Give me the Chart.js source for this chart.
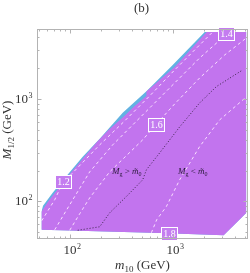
<!DOCTYPE html>
<html>
<head>
<meta charset="utf-8">
<script src="https://cdn.jsdelivr.net/npm/chart.js@4.4.0/dist/chart.umd.min.js"></script>
<style>
  body { margin: 0; background: #fff; }
  canvas { display: block; }
</style>
</head>
<body>
<canvas id="myChart" width="250" height="273"></canvas>
<script>
// values: m10 (x) and M1/2 (y), both in GeV

// lower edge of the allowed region
var bottomX = [52.8, 99.3, 743, 3106, 5160];
var bottomY = [53.0, 52.2, 49.2, 46.9, 77.6];

// upper-left edge of the purple region
var purpleX = [52.8, 61.1, 98.2, 181.6, 232.3, 324.9, 424.8, 551.7, 551.7, 1039, 2124, 5160];
var purpleY = [79.4, 99.3, 182.0, 377.0, 488.0, 660.4, 855.0, 1069.5, 1183, 2049, 4491, 4491];

// outer edge of the blue strip
var blueX = [52.8, 54.7, 67.9, 92.9, 132.8, 194.2, 324.9, 555.5, 993.4, 2032, 5160];
var blueY = [79.4, 90.8, 121.5, 177.9, 272.4, 407.9, 730.8, 1196, 2143, 4491, 4491];

// dashed contours
var contourLevels = ["1.2", "1.4", "1.6", "1.8"];
var c12X = [53.1, 71.0, 85.0, 103.9, 194.2, 339.7, 593.9, 1039, 1816, 2376];
var c12Y = [64.9, 103.9, 152.1, 186.1, 356.5, 610.6, 1069.5, 1916, 3357, 4392];
var c14X = [71.0, 99.3, 155.4, 259.8, 475.1, 929, 1816, 3249];
var c14Y = [53.0, 92.9, 194.7, 356.5, 653.1, 1280, 2507, 4201];
var c16X = [99.3, 124.2, 155.4, 242.9, 507.9, 679.2, 1039, 1816, 3176, 5160];
var c16Y = [52.4, 75.9, 108.6, 194.7, 398.9, 558.2, 894.2, 1601, 2681, 3925];
var c18X = [616.9, 694.6, 862.7, 1161, 1816, 2840, 5160];
var c18Y = [49.6, 66.4, 89.4, 162.7, 343.2, 624.4, 1046];

// where the contour labels sit
var labelX = [85.0, 3285, 687, 908];
var labelY = [155.5, 4246, 558.2, 48.5];

// dotted line M_g = m0
var dotX = [118.8, 194.2, 242.9, 352.8, 507.9, 551.7, 743, 1161, 1816, 2639, 4751];
var dotY = [52.4, 56.7, 77.6, 111.9, 162.7, 203.6, 298.0, 533.7, 914.4, 1318, 1916];

// text positions
var noteX = [355.3, 1554];
var noteY = [199, 199];
var noteSign = [">", "<"];

// axis ticks
var majorTicks = [100, 1000];
var xMinor = [50, 60, 70, 80, 90, 200, 300, 400, 500, 600, 700, 800, 900, 2000, 3000, 4000, 5000];
var yMinor = [50, 60, 70, 80, 90, 200, 300, 400, 500, 600, 700, 800, 900, 2000, 3000, 4000];

const purple = "#c274ee";
const blue = "#62b2e2";
const serif = '"Liberation Serif", "DejaVu Serif", serif';

function pts(xs, ys) {
  return xs.map((v, i) => ({ x: v, y: ys[i] }));
}

function contour(xs, ys) {
  return {
    data: pts(xs, ys),
    showLine: true,
    pointRadius: 0,
    borderColor: "rgba(255,235,255,0.9)",
    borderWidth: 1,
    borderDash: [3, 3],
    fill: false
  };
}

// writes "10" with a raised exponent
function drawPow(ctx, px, py, exp, mode) {
  ctx.font = "13px " + serif;
  const w1 = ctx.measureText("10").width;
  ctx.font = "8px " + serif;
  const w2 = ctx.measureText(exp).width;
  let x0 = mode === "center" ? px - w1 / 2 : px - w1 - w2;
  ctx.textAlign = "left";
  ctx.textBaseline = "alphabetic";
  ctx.font = "13px " + serif;
  ctx.fillText("10", x0, py);
  ctx.font = "8px " + serif;
  ctx.fillText(exp, x0 + w1 + 0.5, py - 5);
}

// italic symbol with a small subscript, then normal text
function drawSym(ctx, x0, py, sym, sub, rest, size) {
  ctx.textAlign = "left";
  ctx.textBaseline = "alphabetic";
  ctx.font = "italic " + size + "px " + serif;
  ctx.fillText(sym, x0, py);
  let x = x0 + ctx.measureText(sym).width;
  ctx.font = Math.round(size * 0.7) + "px " + serif;
  ctx.fillText(sub, x, py + size * 0.25);
  x += ctx.measureText(sub).width;
  ctx.font = size + "px " + serif;
  ctx.fillText(rest, x, py);
  return x + ctx.measureText(rest).width;
}

function symWidth(ctx, sym, sub, rest, size) {
  ctx.font = "italic " + size + "px " + serif;
  let w = ctx.measureText(sym).width;
  ctx.font = Math.round(size * 0.7) + "px " + serif;
  w += ctx.measureText(sub).width;
  ctx.font = size + "px " + serif;
  return w + ctx.measureText(rest).width;
}

const decorations = {
  id: "decorations",
  afterDatasetsDraw(chart) {
    const { ctx, scales: { x, y } } = chart;
    ctx.save();
    // region notes
    ctx.fillStyle = "#2a1a3a";
    noteX.forEach((v, i) => {
      const px = x.getPixelForValue(v), py = y.getPixelForValue(noteY[i]) + 3;
      let w = symWidth(ctx, "M", "g", " " + noteSign[i] + " ", 9) + symWidth(ctx, "m\u0303", "0", "", 9);
      let x1 = drawSym(ctx, px - w / 2, py, "M", "g", " " + noteSign[i] + " ", 9);
      drawSym(ctx, x1, py, "m\u0303", "0", "", 9);
    });
    // contour labels
    contourLevels.forEach((lvl, i) => {
      const px = Math.round(x.getPixelForValue(labelX[i])), py = Math.round(y.getPixelForValue(labelY[i]));
      ctx.fillStyle = "#c47cf0";
      ctx.fillRect(px - 8, py - 7, 17, 14);
      ctx.strokeStyle = "#ffffff";
      ctx.lineWidth = 1;
      ctx.strokeRect(px - 7.5, py - 6.5, 16, 13);
      ctx.fillStyle = "#ffffff";
      ctx.font = "10px " + serif;
      ctx.textAlign = "center";
      ctx.textBaseline = "middle";
      ctx.fillText(lvl, px + 0.5, py + 0.5);
    });
    ctx.restore();
  },
  afterDraw(chart) {
    const { ctx, chartArea: a, scales: { x, y } } = chart;
    ctx.save();
    ctx.strokeStyle = "#b3b3b3";
    ctx.lineWidth = 1;
    ctx.strokeRect(a.left + 0.5, a.top + 0.5, a.right - a.left - 1, a.bottom - a.top - 1);
    ctx.beginPath();
    const tick = (v, len, axis) => {
      if (axis === "x") {
        const px = Math.round(x.getPixelForValue(v)) + 0.5;
        ctx.moveTo(px, a.bottom); ctx.lineTo(px, a.bottom - len);
        ctx.moveTo(px, a.top); ctx.lineTo(px, a.top + len);
      } else {
        const py = Math.round(y.getPixelForValue(v)) + 0.5;
        ctx.moveTo(a.left, py); ctx.lineTo(a.left + len, py);
        ctx.moveTo(a.right, py); ctx.lineTo(a.right - len, py);
      }
    };
    majorTicks.forEach(v => { tick(v, 4.5, "x"); tick(v, 4.5, "y"); });
    xMinor.forEach(v => tick(v, 2.5, "x"));
    yMinor.forEach(v => tick(v, 2.5, "y"));
    ctx.stroke();

    // tick labels
    ctx.fillStyle = "#333333";
    majorTicks.forEach(v => {
      const sup = String(Math.round(Math.log10(v)));
      drawPow(ctx, x.getPixelForValue(v), a.bottom + 15, sup, "center");
      drawPow(ctx, a.left - 5, y.getPixelForValue(v) + 4, sup, "right");
    });

    // axis titles
    const cx = (a.left + a.right) / 2;
    let w = symWidth(ctx, "m", "10", " (GeV)", 13);
    drawSym(ctx, cx - w / 2, 269, "m", "10", " (GeV)", 13);

    ctx.save();
    ctx.translate(11, (a.top + a.bottom) / 2 - 4);
    ctx.rotate(-Math.PI / 2);
    w = symWidth(ctx, "M", "1/2", " (GeV)", 13);
    drawSym(ctx, -w / 2, 0, "M", "1/2", " (GeV)", 13);
    ctx.restore();

    // panel title
    ctx.font = "13px " + serif;
    ctx.textAlign = "center";
    ctx.textBaseline = "alphabetic";
    ctx.fillText("(b)", cx - 1, 12);
    ctx.restore();
  }
};

new Chart("myChart", {
  type: "scatter",
  data: {
    datasets: [
      {
        data: pts(dotX, dotY),
        showLine: true,
        pointRadius: 0,
        borderColor: "#3a2448",
        borderWidth: 1,
        borderDash: [1, 2],
        fill: false
      },
      contour(c12X, c12Y),
      contour(c14X, c14Y),
      contour(c16X, c16Y),
      contour(c18X, c18Y),
      {
        data: pts(purpleX, purpleY),
        showLine: true,
        pointRadius: 0,
        borderWidth: 0,
        backgroundColor: purple,
        fill: 7
      },
      {
        data: pts(blueX, blueY),
        showLine: true,
        pointRadius: 0,
        borderWidth: 0,
        backgroundColor: blue,
        fill: 7
      },
      {
        data: pts(bottomX, bottomY),
        showLine: true,
        pointRadius: 0,
        borderWidth: 0,
        fill: false
      }
    ]
  },
  options: {
    responsive: false,
    animation: false,
    layout: { padding: { left: 37, right: 2, top: 29, bottom: 34 } },
    plugins: { legend: { display: false }, tooltip: { enabled: false } },
    scales: {
      x: { type: "logarithmic", min: 47.8, max: 5350, display: false },
      y: { type: "logarithmic", min: 43.1, max: 4800, display: false }
    }
  },
  plugins: [decorations]
});
</script>
</body>
</html>
